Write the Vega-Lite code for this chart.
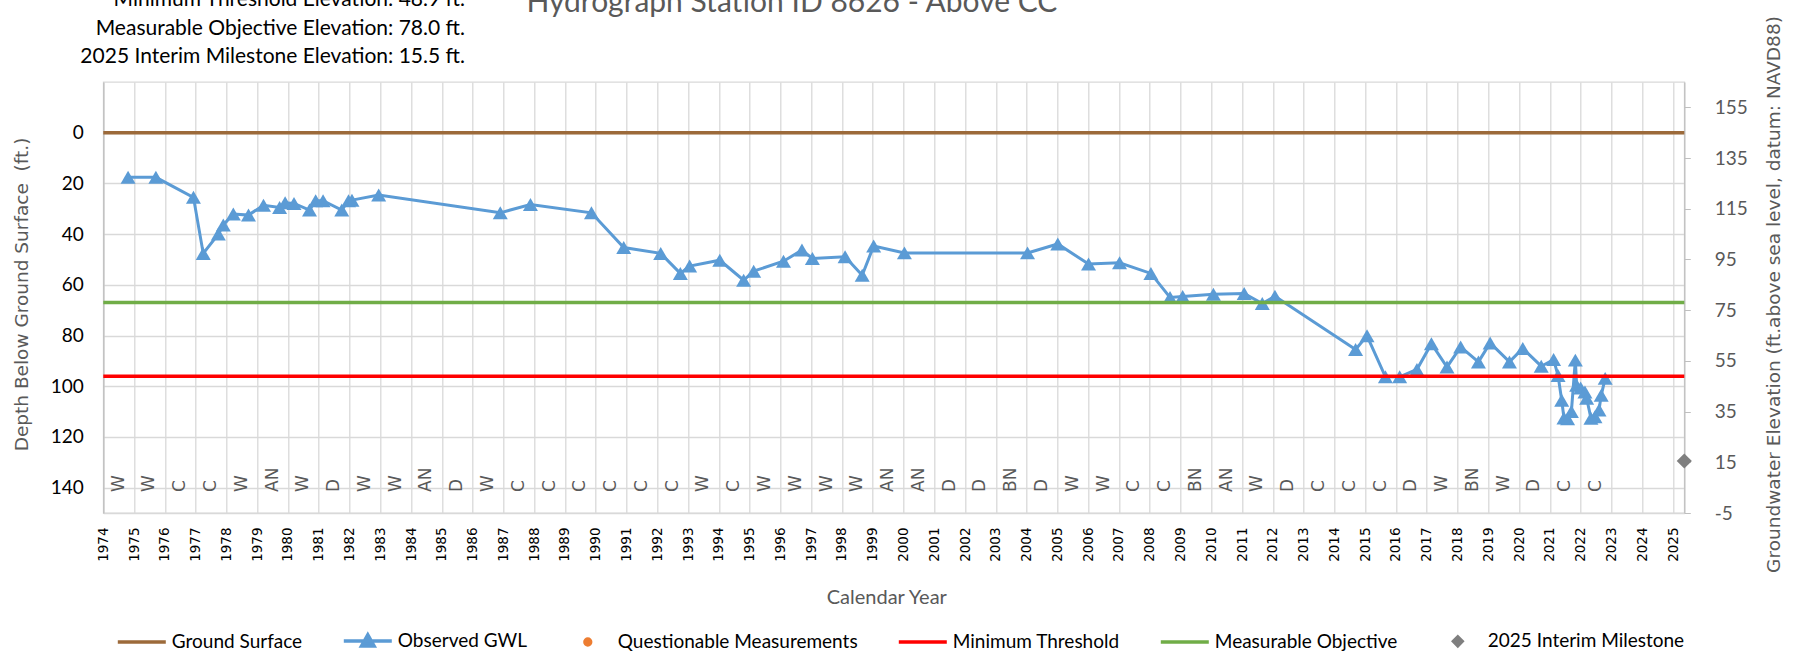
{
  "$schema": "https://vega.github.io/schema/vega-lite/v6.json",
  "width": 1581,
  "height": 431,
  "autosize": {"type": "none"},
  "padding": {"left": 103.3, "top": 82, "right": 114.7, "bottom": 139},
  "background": "white",
  "config": {
    "font": "Lato",
    "view": {"stroke": "#D9D9D9", "strokeWidth": 1.3}
  },
  "datasets": {
    "gwl": [
      {"date": "1974-10-22", "depth": 17.6},
      {"date": "1975-09-17", "depth": 17.6},
      {"date": "1976-12-06", "depth": 25.5},
      {"date": "1977-04-01", "depth": 47.6},
      {"date": "1977-09-27", "depth": 40.0},
      {"date": "1977-11-25", "depth": 36.4},
      {"date": "1978-03-24", "depth": 32.1},
      {"date": "1978-09-20", "depth": 32.5},
      {"date": "1979-03-17", "depth": 28.6},
      {"date": "1979-09-24", "depth": 29.5},
      {"date": "1979-11-29", "depth": 27.6},
      {"date": "1980-03-13", "depth": 27.9},
      {"date": "1980-09-13", "depth": 30.5},
      {"date": "1980-11-25", "depth": 26.8},
      {"date": "1981-02-21", "depth": 26.8},
      {"date": "1981-10-01", "depth": 30.5},
      {"date": "1981-12-20", "depth": 26.8},
      {"date": "1982-01-30", "depth": 26.6},
      {"date": "1982-12-13", "depth": 24.6},
      {"date": "1986-11-25", "depth": 31.6},
      {"date": "1987-11-18", "depth": 28.3},
      {"date": "1989-11-11", "depth": 31.6},
      {"date": "1990-11-29", "depth": 45.3},
      {"date": "1992-02-11", "depth": 47.6},
      {"date": "1992-10-01", "depth": 55.5},
      {"date": "1993-01-19", "depth": 52.6},
      {"date": "1994-01-12", "depth": 50.3},
      {"date": "1994-10-22", "depth": 58.2},
      {"date": "1995-02-18", "depth": 54.6},
      {"date": "1996-02-07", "depth": 50.7},
      {"date": "1996-09-13", "depth": 46.3},
      {"date": "1997-01-15", "depth": 49.6},
      {"date": "1998-02-07", "depth": 48.9},
      {"date": "1998-08-29", "depth": 56.2},
      {"date": "1999-01-12", "depth": 44.7},
      {"date": "2000-01-12", "depth": 47.4},
      {"date": "2004-01-12", "depth": 47.4},
      {"date": "2005-01-05", "depth": 43.9},
      {"date": "2006-01-05", "depth": 51.8},
      {"date": "2007-01-08", "depth": 51.3},
      {"date": "2008-01-15", "depth": 55.5},
      {"date": "2008-08-29", "depth": 65.0},
      {"date": "2009-01-26", "depth": 64.6},
      {"date": "2010-01-26", "depth": 63.7},
      {"date": "2011-01-26", "depth": 63.4},
      {"date": "2011-08-29", "depth": 67.4},
      {"date": "2012-01-26", "depth": 64.5},
      {"date": "2014-09-09", "depth": 85.5},
      {"date": "2015-01-23", "depth": 80.1},
      {"date": "2015-08-29", "depth": 96.3},
      {"date": "2016-02-14", "depth": 96.3},
      {"date": "2016-09-06", "depth": 93.4},
      {"date": "2017-02-25", "depth": 83.2},
      {"date": "2017-08-29", "depth": 92.4},
      {"date": "2018-02-07", "depth": 84.5},
      {"date": "2018-09-06", "depth": 90.4},
      {"date": "2019-01-23", "depth": 82.9},
      {"date": "2019-09-09", "depth": 90.4},
      {"date": "2020-02-14", "depth": 85.1},
      {"date": "2020-09-20", "depth": 92.1},
      {"date": "2021-02-14", "depth": 89.5},
      {"date": "2021-04-08", "depth": 95.8},
      {"date": "2021-05-21", "depth": 105.5},
      {"date": "2021-06-17", "depth": 112.5},
      {"date": "2021-07-30", "depth": 112.8},
      {"date": "2021-09-13", "depth": 110.0},
      {"date": "2021-10-30", "depth": 89.7},
      {"date": "2021-11-14", "depth": 99.6},
      {"date": "2022-01-01", "depth": 100.7},
      {"date": "2022-02-21", "depth": 102.3},
      {"date": "2022-03-13", "depth": 104.7},
      {"date": "2022-05-03", "depth": 112.6},
      {"date": "2022-06-20", "depth": 112.0},
      {"date": "2022-08-07", "depth": 109.4},
      {"date": "2022-09-02", "depth": 103.6},
      {"date": "2022-10-19", "depth": 96.9}
    ],
    "wytype": [
      {"date": "1974-07-02", "wy": "W"}, {"date": "1975-07-02", "wy": "W"}, {"date": "1976-07-02", "wy": "C"},
      {"date": "1977-07-02", "wy": "C"}, {"date": "1978-07-02", "wy": "W"}, {"date": "1979-07-02", "wy": "AN"},
      {"date": "1980-07-02", "wy": "W"}, {"date": "1981-07-02", "wy": "D"}, {"date": "1982-07-02", "wy": "W"},
      {"date": "1983-07-02", "wy": "W"}, {"date": "1984-07-02", "wy": "AN"}, {"date": "1985-07-02", "wy": "D"},
      {"date": "1986-07-02", "wy": "W"}, {"date": "1987-07-02", "wy": "C"}, {"date": "1988-07-02", "wy": "C"},
      {"date": "1989-07-02", "wy": "C"}, {"date": "1990-07-02", "wy": "C"}, {"date": "1991-07-02", "wy": "C"},
      {"date": "1992-07-02", "wy": "C"}, {"date": "1993-07-02", "wy": "W"}, {"date": "1994-07-02", "wy": "C"},
      {"date": "1995-07-02", "wy": "W"}, {"date": "1996-07-02", "wy": "W"}, {"date": "1997-07-02", "wy": "W"},
      {"date": "1998-07-02", "wy": "W"}, {"date": "1999-07-02", "wy": "AN"}, {"date": "2000-07-02", "wy": "AN"},
      {"date": "2001-07-02", "wy": "D"}, {"date": "2002-07-02", "wy": "D"}, {"date": "2003-07-02", "wy": "BN"},
      {"date": "2004-07-02", "wy": "D"}, {"date": "2005-07-02", "wy": "W"}, {"date": "2006-07-02", "wy": "W"},
      {"date": "2007-07-02", "wy": "C"}, {"date": "2008-07-02", "wy": "C"}, {"date": "2009-07-02", "wy": "BN"},
      {"date": "2010-07-02", "wy": "AN"}, {"date": "2011-07-02", "wy": "W"}, {"date": "2012-07-02", "wy": "D"},
      {"date": "2013-07-02", "wy": "C"}, {"date": "2014-07-02", "wy": "C"}, {"date": "2015-07-02", "wy": "C"},
      {"date": "2016-07-02", "wy": "D"}, {"date": "2017-07-02", "wy": "W"}, {"date": "2018-07-02", "wy": "BN"},
      {"date": "2019-07-02", "wy": "W"}, {"date": "2020-07-02", "wy": "D"}, {"date": "2021-07-02", "wy": "C"},
      {"date": "2022-07-02", "wy": "C"}
    ],
    "levels": [
      {"series": "Ground Surface", "depth": 0, "elevation": 145.0},
      {"series": "Minimum Threshold", "depth": 96.1, "elevation": 48.9},
      {"series": "Measurable Objective", "depth": 67.0, "elevation": 78.0}
    ],
    "notes": [
      {"note": "elevations"}
    ],
    "heading": [
      {"heading": "Hydrograph Station ID 8626 - Above CC"}
    ],
    "milestone": [
      {"series": "2025 Interim Milestone", "date": "2025-05-15", "elevation": 15.5}
    ],
    "series": [
      {"series": "Ground Surface"},
      {"series": "Observed GWL"},
      {"series": "Questionable Measurements"},
      {"series": "Minimum Threshold"},
      {"series": "Measurable Objective"},
      {"series": "2025 Interim Milestone"}
    ]
  },
  "layer": [
    {
      "layer": [
        {
          "data": {"name": "gwl"},
          "mark": {
            "type": "line",
            "color": "#5B9BD5",
            "strokeWidth": 3,
            "point": {"shape": "triangle-up", "size": 225, "filled": true, "color": "#5B9BD5"}
          },
          "encoding": {
            "x": {
              "field": "date",
              "type": "temporal",
              "scale": {
                "type": "utc",
                "domain": [
                  {"year": 1974, "month": 1, "date": 1, "utc": true},
                  {"year": 2025, "month": 5, "date": 15, "utc": true}
                ]
              },
              "axis": {
                "title": "Calendar Year",
                "format": "%Y",
                "tickCount": {"interval": "year", "step": 1},
                "labelAngle": -90,
                "labelFont": "DejaVu Sans",
                "labelFontSize": 13.5,
                "labelColor": "#000000",
                "labelPadding": 14,
                "labelOverlap": false,
                "labelFlush": false,
                "ticks": false,
                "grid": true,
                "gridColor": "#D9D9D9",
                "gridWidth": 1.3,
                "domainColor": "#D9D9D9",
                "domainWidth": 1.3,
                "titleFont": "Lato",
                "titleFontSize": 20,
                "titleFontWeight": "normal",
                "titleColor": "#595959",
                "titleX": 783,
                "titleY": 84,
                "titleAlign": "center",
                "titleBaseline": "middle"
              }
            },
            "y": {
              "field": "depth",
              "type": "quantitative",
              "scale": {"domain": [-20, 150], "reverse": true, "nice": false, "zero": false},
              "axis": {
                "title": "Depth Below Ground Surface\u00a0 (ft.)",
                "values": [0, 20, 40, 60, 80, 100, 120, 140],
                "grid": true,
                "gridColor": "#D9D9D9",
                "gridWidth": 1.3,
                "ticks": false,
                "domainColor": "#BFBFBF",
                "domainWidth": 1.3,
                "labelFont": "Lato",
                "labelFontSize": 19,
                "labelColor": "#000000",
                "labelPadding": 20,
                "titleFont": "DejaVu Sans",
                "titleFontSize": 18.5,
                "titleFontWeight": "normal",
                "titleColor": "#595959",
                "titleAngle": 270,
                "titleX": -82.3,
                "titleY": 212,
                "titleAlign": "center",
                "titleBaseline": "middle"
              }
            }
          }
        },
        {
          "data": {"name": "wytype"},
          "mark": {
            "type": "text",
            "angle": 270,
            "align": "left",
            "baseline": "middle",
            "font": "DejaVu Sans",
            "fontSize": 17,
            "color": "#595959"
          },
          "encoding": {
            "x": {"field": "date", "type": "temporal"},
            "y": {"datum": 141.7, "type": "quantitative"},
            "text": {"field": "wy", "type": "nominal"}
          }
        },
        {
          "data": {"name": "levels"},
          "mark": {"type": "rule", "strokeWidth": 3.5},
          "encoding": {
            "y": {"field": "depth", "type": "quantitative"},
            "stroke": {
              "field": "series",
              "type": "nominal",
              "scale": {
                "domain": ["Ground Surface", "Minimum Threshold", "Measurable Objective"],
                "range": ["#9C6A3A", "#FF0000", "#70AD47"]
              },
              "legend": null
            }
          }
        },
        {
          "data": {"name": "heading"},
          "mark": {
            "type": "text",
            "align": "center",
            "baseline": "alphabetic",
            "font": "Lato",
            "fontSize": 30,
            "color": "#595959"
          },
          "encoding": {
            "x": {"datum": {"year": 1996, "month": 5, "date": 17, "utc": true}, "type": "temporal"},
            "y": {"datum": -47.8, "type": "quantitative"},
            "text": {"field": "heading", "type": "nominal"}
          }
        },
        {
          "data": {"name": "notes"},
          "mark": {
            "type": "text",
            "align": "right",
            "baseline": "alphabetic",
            "font": "Lato",
            "fontSize": 21,
            "color": "#000000",
            "lineHeight": 28.5,
            "text": [
              "Minimum Threshold Elevation: 48.9 ft.",
              "Measurable Objective Elevation: 78.0 ft.",
              "2025 Interim Milestone Elevation: 15.5 ft."
            ]
          },
          "encoding": {
            "x": {"datum": {"year": 1985, "month": 10, "date": 1, "utc": true}, "type": "temporal"},
            "y": {"datum": -49.9, "type": "quantitative"}
          }
        },
        {
          "data": {"name": "series"},
          "mark": {"type": "point", "filled": true, "opacity": 0},
          "encoding": {
            "x": {"datum": {"year": 2000, "month": 1, "date": 1, "utc": true}, "type": "temporal"},
            "y": {"datum": 50, "type": "quantitative"},
            "color": {
              "field": "series",
              "type": "nominal",
              "scale": {
                "domain": ["Ground Surface", "Observed GWL", "Questionable Measurements", "Minimum Threshold", "Measurable Objective", "2025 Interim Milestone"],
                "range": ["#9C6A3A", "#5B9BD5", "#ED7D31", "#FF0000", "#70AD47", "#7F7F7F"]
              },
              "legend": {
                "title": null,
                "orient": "none",
                "legendX": 12.5,
                "legendY": 533,
                "direction": "horizontal",
                "symbolSize": 2304,
                "symbolStrokeWidth": 3.5,
                "labelFont": "Lato",
                "labelFontSize": 19,
                "labelColor": "#000000",
                "labelOffset": 4,
                "labelLimit": 400,
                "columnPadding": 34,
                "encode": {
                  "symbols": {
                    "update": {
                      "opacity": {"value": 1},
                      "fill": {"scale": "color", "field": "value"},
                      "stroke": {"scale": "color", "field": "value"},
                      "strokeWidth": {"value": 3.5}
                    }
                  }
                }
              }
            },
            "shape": {
              "field": "series",
              "type": "nominal",
              "scale": {
                "domain": ["Ground Surface", "Observed GWL", "Questionable Measurements", "Minimum Threshold", "Measurable Objective", "2025 Interim Milestone"],
                "range": [
                  "M-1,0H1",
                  "M-1,0H1M0,-0.26L0.26,0.2L-0.26,0.2Z",
                  "M-0.12,0A0.12,0.12,0,1,0,0.12,0A0.12,0.12,0,1,0,-0.12,0Z",
                  "M-1,0H1",
                  "M-1,0H1",
                  "M0,-0.18L0.18,0L0,0.18L-0.18,0Z"
                ]
              },
              "legend": {
                "title": null,
                "orient": "none",
                "legendX": 12.5,
                "legendY": 533,
                "direction": "horizontal",
                "symbolSize": 2304,
                "symbolStrokeWidth": 3.5,
                "labelFont": "Lato",
                "labelFontSize": 19,
                "labelColor": "#000000",
                "labelOffset": 4,
                "labelLimit": 400,
                "columnPadding": 34,
                "encode": {
                  "symbols": {
                    "update": {
                      "opacity": {"value": 1},
                      "fill": {"scale": "color", "field": "value"},
                      "stroke": {"scale": "color", "field": "value"},
                      "strokeWidth": {"value": 3.5}
                    }
                  }
                }
              }
            }
          }
        }
      ]
    },
    {
      "data": {"name": "milestone"},
      "mark": {"type": "point", "shape": "diamond", "filled": true, "size": 230, "color": "#7F7F7F", "opacity": 1},
      "encoding": {
        "x": {"field": "date", "type": "temporal"},
        "y": {
          "field": "elevation",
          "type": "quantitative",
          "scale": {"domain": [-5, 165], "nice": false, "zero": false},
          "axis": {
            "orient": "right",
            "title": "Groundwater Elevation (ft.above sea level, datum: NAVD88)",
            "values": [-5, 15, 35, 55, 75, 95, 115, 135, 155],
            "labelExpr": "'' + datum.value",
            "grid": false,
            "ticks": true,
            "tickSize": 6,
            "tickColor": "#BFBFBF",
            "domainColor": "#BFBFBF",
            "domainWidth": 1.3,
            "labelFont": "Lato",
            "labelFontSize": 19,
            "labelColor": "#595959",
            "labelPadding": 24,
            "titleFont": "DejaVu Sans",
            "titleFontSize": 18.5,
            "titleFontWeight": "normal",
            "titleColor": "#595959",
            "titleAngle": 270,
            "titleX": 88.7,
            "titleY": 212,
            "titleAlign": "center",
            "titleBaseline": "middle"
          }
        }
      }
    }
  ],
  "resolve": {"scale": {"y": "independent"}, "axis": {"y": "independent"}}
}
